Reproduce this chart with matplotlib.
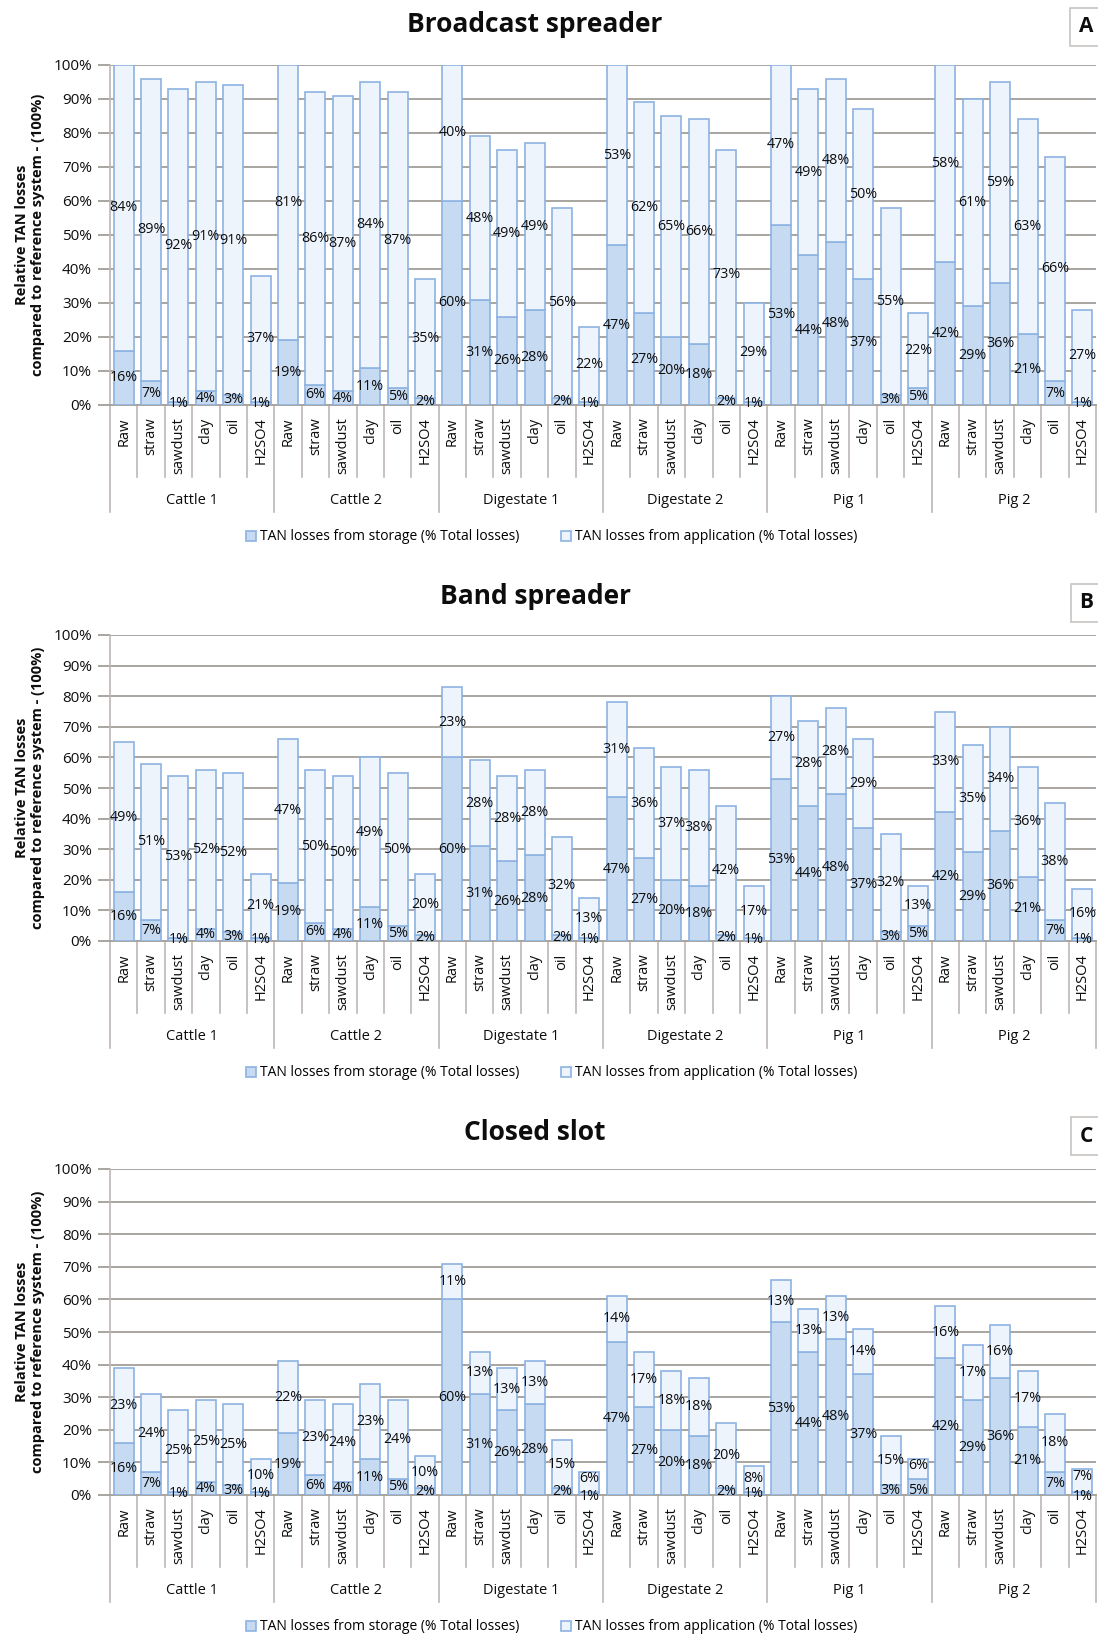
import numpy as np
import matplotlib
matplotlib.use("Agg")
import matplotlib.pyplot as plt
from matplotlib.patches import Patch
from matplotlib.transforms import blended_transform_factory

plt.rcParams['font.family'] = ['Open Sans', 'DejaVu Sans']

groups = ["Cattle 1", "Cattle 2", "Digestate 1", "Digestate 2", "Pig 1", "Pig 2"]
treatments = ["Raw", "straw", "sawdust", "clay", "oil", "H2SO4"]

# TAN losses from storage (same for all application methods), % of reference
storage = [16, 7, 1, 4, 3, 1,
           19, 6, 4, 11, 5, 2,
           60, 31, 26, 28, 2, 1,
           47, 27, 20, 18, 2, 1,
           53, 44, 48, 37, 3, 5,
           42, 29, 36, 21, 7, 1]

# TAN losses from application, % of reference
app_broadcast = [84, 89, 92, 91, 91, 37,
                 81, 86, 87, 84, 87, 35,
                 40, 48, 49, 49, 56, 22,
                 53, 62, 65, 66, 73, 29,
                 47, 49, 48, 50, 55, 22,
                 58, 61, 59, 63, 66, 27]
app_band = [49, 51, 53, 52, 52, 21,
            47, 50, 50, 49, 50, 20,
            23, 28, 28, 28, 32, 13,
            31, 36, 37, 38, 42, 17,
            27, 28, 28, 29, 32, 13,
            33, 35, 34, 36, 38, 16]
app_slot = [23, 24, 25, 25, 25, 10,
            22, 23, 24, 23, 24, 10,
            11, 13, 13, 13, 15, 6,
            14, 17, 18, 18, 20, 8,
            13, 13, 13, 14, 15, 6,
            16, 17, 16, 17, 18, 7]

titles = ["Broadcast spreader", "Band spreader", "Closed slot"]
panel_letters = ["A", "B", "C"]
yticks = [0, 10, 20, 30, 40, 50, 60, 70, 80, 90, 100]
legend_labels = ["TAN losses from storage (% Total losses)",
                 "TAN losses from application (% Total losses)"]
ylabel = "Relative TAN losses\ncompared to reference system - (100%)"

W, H = 1098, 1636
fig = plt.figure(figsize=(W / 100, H / 100), dpi=100)

STO_FC = '#C6DAF1'
APP_FC = '#EEF4FC'
EDGE = '#8DB3E2'
GRID = '#A8A4A0'
SEP = '#BDB8B4'
TXT = '#0d0d0d'

# (top px, bottom px, title y px) for each axes
layout = [(65, 405, 25), (635, 941, 596), (1169, 1495, 1132)]
letter_y = [27, 603, 1136]
ax_left, ax_right = 110, 1096

apps = [app_broadcast, app_band, app_slot]
x = np.arange(len(storage))
ncat = len(treatments)

for k in range(3):
    top, bot, ty = layout[k]
    hpx = bot - top
    ax = fig.add_axes([ax_left / W, 1 - bot / H, (ax_right - ax_left) / W, hpx / H])
    app = apps[k]
    c1 = ax.bar(x, storage, width=0.73, color=STO_FC, edgecolor=EDGE, linewidth=1.2, zorder=3)
    c2 = ax.bar(x, app, bottom=storage, width=0.73, color=APP_FC, edgecolor=EDGE, linewidth=1.2, zorder=3)
    t1 = ax.bar_label(c1, labels=[f"{v}%" for v in storage], label_type='center',
                      fontsize=10.3, color=TXT, zorder=5)
    t2 = ax.bar_label(c2, labels=[f"{v}%" for v in app], label_type='center',
                      fontsize=10.3, color=TXT, zorder=5)
    # nudge labels apart where both segments are tiny
    for i in range(len(storage)):
        if app[i] < 8 and storage[i] < 8:
            t2[i].xyann = (0, 2.5)
            t1[i].xyann = (0, -2.5)

    ax.set_xlim(-0.5, len(storage) - 0.5)
    ax.set_ylim(0, 100)
    ax.set_yticks(yticks)
    ax.set_yticklabels([f"{v}%" for v in yticks], fontsize=11, color=TXT)
    ax.yaxis.grid(True, color=GRID, linewidth=1.4, zorder=0)
    ax.set_axisbelow(True)
    for s in ['top', 'right']:
        ax.spines[s].set_visible(False)
    ax.spines['left'].set_color(SEP)
    ax.spines['bottom'].set_color(GRID)
    ax.spines['left'].set_linewidth(1.2)
    ax.spines['bottom'].set_linewidth(1.4)
    ax.tick_params(axis='y', length=9, color=GRID, width=1.4, pad=4)

    ax.set_xticks(x)
    ax.set_xticklabels(treatments * len(groups), rotation=90, fontsize=10.5, color=TXT)
    ax.tick_params(axis='x', length=0, pad=9)

    tr = blended_transform_factory(ax.transData, ax.transAxes)
    # separators between categories and groups
    for i in range(len(storage) + 1):
        xb = i - 0.5
        depth = 107 if i % ncat == 0 else 72
        ax.plot([xb, xb], [0, -depth / hpx], color=SEP, lw=1.2, transform=tr, clip_on=False)
    # group labels
    for g, name in enumerate(groups):
        ax.text(g * ncat + (ncat - 1) / 2, -95 / hpx, name, transform=tr,
                ha='center', va='center', fontsize=10.5, color=TXT)

    # title
    fig.text(535 / W, 1 - ty / H, titles[k], ha='center', va='center',
             fontsize=19, fontweight='bold', color=TXT)
    # panel letter
    fig.text(1086 / W, 1 - letter_y[k] / H, panel_letters[k], ha='center', va='center',
             fontsize=15, fontweight='bold', color=TXT,
             bbox=dict(boxstyle='square,pad=0.4', fc='white', ec='#C8C4C0', lw=1.2))
    # y label
    fig.text(30 / W, 1 - (top + bot) / 2 / H, ylabel, rotation=90, ha='center', va='center',
             fontsize=10.5, fontweight='bold', multialignment='center', linespacing=1.2,
             color=TXT)
    # legend
    handles = [Patch(facecolor=STO_FC, edgecolor=EDGE, linewidth=1.2),
               Patch(facecolor=APP_FC, edgecolor=EDGE, linewidth=1.2)]
    fig.legend(handles, legend_labels, loc='center', ncol=2, frameon=False,
               bbox_to_anchor=(552 / W, 1 - (bot + 132) / H), fontsize=10,
               handlelength=0.7, handleheight=0.7, handletextpad=0.3, columnspacing=3.0)

fig.savefig("out.png", dpi=100, facecolor='white')
